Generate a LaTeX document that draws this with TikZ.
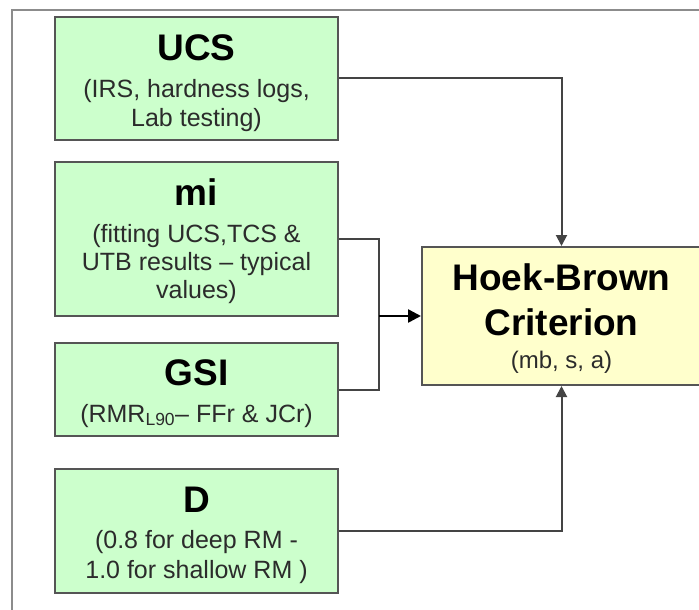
\documentclass[tikz,border=0pt]{standalone}
\usepackage{fontspec}
\setmainfont{Liberation Sans}
\usetikzlibrary{arrows.meta}
\definecolor{boxgreen}{HTML}{CCFFCC}
\definecolor{boxyellow}{HTML}{FFFFCC}
\definecolor{edgegray}{HTML}{555555}
\definecolor{linegray}{HTML}{444444}
\definecolor{framegray}{HTML}{8C8C8C}
\definecolor{subgray}{HTML}{2B2B2B}
\begin{document}
\begin{tikzpicture}[x=1pt,y=-1pt,
  inbox/.style={draw=edgegray, line width=2pt, fill=boxgreen, minimum width=283pt, inner sep=0pt},
  hbbox/.style={draw=edgegray, line width=2pt, fill=boxyellow, minimum width=279pt, minimum height=138pt, inner sep=0pt},
  ttl/.style={anchor=base, inner sep=0pt, font=\fontsize{37}{44}\selectfont\bfseries},
  sub/.style={anchor=base, inner sep=0pt, text=subgray, font=\fontsize{25}{29}\selectfont},
  conn/.style={draw=linegray, line width=2pt},
  tipa/.style={-{Triangle[length=11pt,width=11pt]}},
  tipb/.style={-{Triangle[length=13pt,width=13pt]}}
]
\useasboundingbox (0,0) rectangle (699,610);
% frame
\draw[framegray, line width=2pt] (12,615) -- (12,10) -- (705,10);

% boxes
\node[inbox, minimum height=123pt] (ucs) at (196.5,78.5) {};
\node[inbox, minimum height=154pt] (mi) at (196.5,239) {};
\node[inbox, minimum height=93pt] (gsi) at (196.5,389.5) {};
\node[inbox, minimum height=124pt] (d) at (196.5,531) {};
\node[hbbox] (hb) at (561.5,316) {};

% texts
\node[ttl] (ucsT) at (196.5,60) {UCS};
\node[sub] (ucs1) at (196.5,97) {(IRS, hardness logs,};
\node[sub] (ucs2) at (196.5,126) {Lab testing)};

\node[ttl] (miT) at (196.5,205) {mi};
\node[sub] (mi1) at (196.5,242) {(fitting UCS,TCS \&};
\node[sub] (mi2) at (196.5,270) {UTB results – typical};
\node[sub] (mi3) at (196.5,298) {values)};

\node[ttl] (gsiT) at (196.5,385) {GSI};
\node[sub] (gsi1) at (196.5,422) {(RMR\textsubscript{L90}– FFr \& JCr)};

\node[ttl] (dT) at (196.5,512) {D};
\node[sub] (d1) at (196.5,548) {(0.8 for deep RM -};
\node[sub] (d2) at (196.5,578) {1.0 for shallow RM )};

\node[ttl] (hbT) at (561.5,290) {Hoek-Brown};
\node[ttl] (hbT2) at (561.5,335) {Criterion};
\node[sub, font=\fontsize{24}{28}\selectfont] (hb1) at (561.5,368) {(mb, s, a)};

% connectors
\coordinate (j) at (379,316);
\draw[conn, tipa] (ucs.east) -| (hb.north);
\draw[conn] (mi.east) -| (j) |- (gsi.east);
\draw[conn, tipb, draw=black, line width=2.5pt] (j) -- (hb.west);
\draw[conn, tipa] (d.east) -| (hb.south);
\end{tikzpicture}
\end{document}
